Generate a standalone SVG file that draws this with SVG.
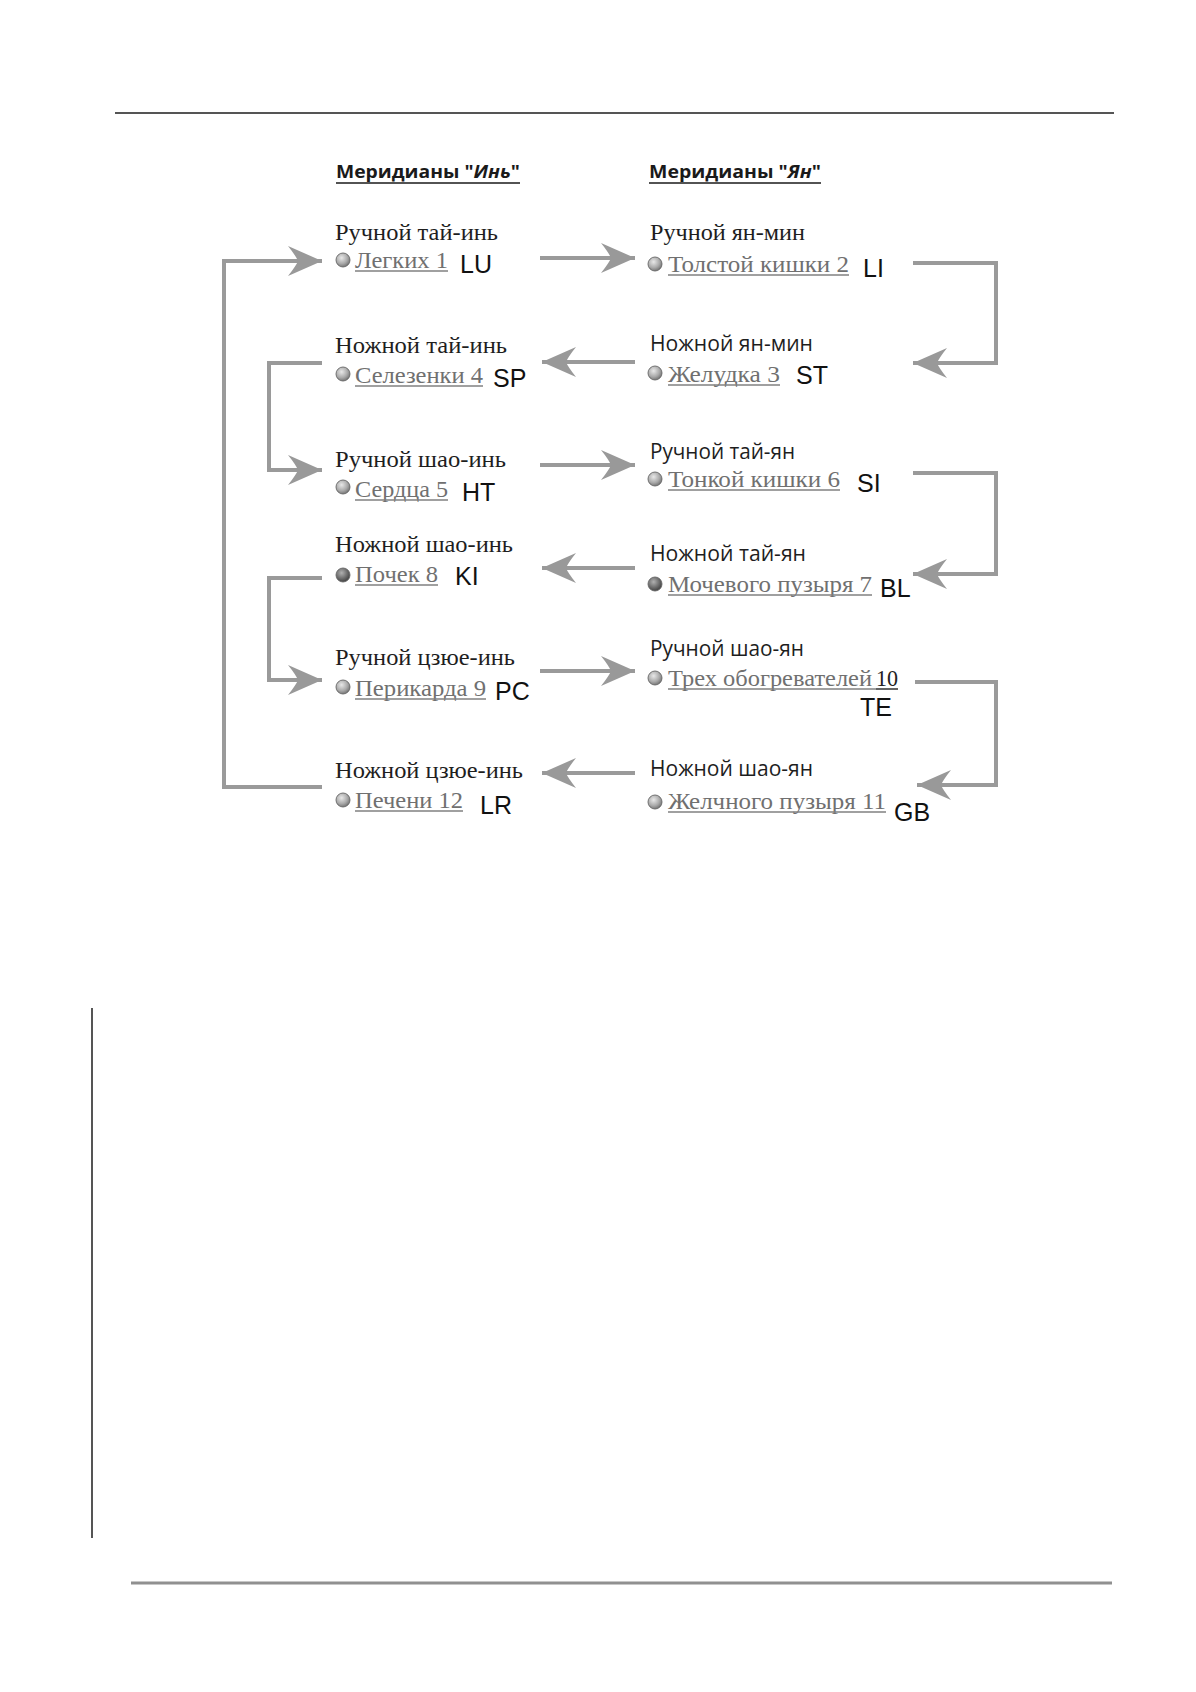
<svg xmlns="http://www.w3.org/2000/svg" width="1196" height="1692" viewBox="0 0 1196 1692">
<defs>
<radialGradient id="ball" cx="0.4" cy="0.35" r="0.7">
<stop offset="0" stop-color="#e8e8e8"/><stop offset="0.6" stop-color="#a9a9a9"/><stop offset="1" stop-color="#6c6c6c"/>
</radialGradient>
<radialGradient id="ballD" cx="0.4" cy="0.35" r="0.7">
<stop offset="0" stop-color="#b0b0b0"/><stop offset="0.6" stop-color="#6a6a6a"/><stop offset="1" stop-color="#3c3c3c"/>
</radialGradient>
<marker id="ah" markerUnits="userSpaceOnUse" markerWidth="40" markerHeight="34" refX="34" refY="15" orient="auto">
<path d="M34,15 L0,0 Q8,10 10,15 Q8,20 0,30 Z" fill="#999"/>
</marker>
<style>
.pg{stroke:#555;stroke-width:2;fill:none}
.cn{stroke:#9a9a9a;stroke-width:4;fill:none;marker-end:url(#ah)}
.hd{font-family:"Open Sans","Noto Sans",sans-serif;font-weight:bold;font-size:17px;fill:#1a1a1a}
.st{font-family:"Liberation Serif",serif;font-size:24px;fill:#1e1e1e}
.ss{font-family:"Open Sans","Noto Sans",sans-serif;font-size:21px;fill:#1e1e1e}
.lk{font-family:"Liberation Serif",serif;font-size:24px;fill:#707070}
.ul{stroke:#808080;stroke-width:1.4}
.ab{font-family:"Liberation Sans",Arial,sans-serif;font-size:25px;fill:#111}
.bl{stroke:#666;stroke-width:0.9}
</style>
</defs>
<rect width="1196" height="1692" fill="#fff"/>
<line class="pg" x1="115" y1="113" x2="1114" y2="113" stroke-width="2.5"/>
<line class="pg" x1="92" y1="1008" x2="92" y2="1538"/>
<line x1="131" y1="1583" x2="1112" y2="1583" stroke="#909090" stroke-width="3"/>

<g id="headings">
<text class="hd" x="336" y="178" textLength="184" lengthAdjust="spacingAndGlyphs">Меридианы "<tspan font-style="italic">Инь</tspan>"</text>
<line x1="336" y1="183" x2="520" y2="183" stroke="#1a1a1a" stroke-width="1.6"/>
<text class="hd" x="649" y="178" textLength="172" lengthAdjust="spacingAndGlyphs">Меридианы "<tspan font-style="italic">Ян</tspan>"</text>
<line x1="649" y1="183" x2="821" y2="183" stroke="#1a1a1a" stroke-width="1.6"/>
</g>

<g id="connectors">
<line class="cn" x1="540" y1="258" x2="635" y2="258"/>
<path class="cn" d="M913,263 H996 V363 H913"/>
<line class="cn" x1="635" y1="362" x2="542" y2="362"/>
<path class="cn" d="M322,363 H269 V470 H322"/>
<line class="cn" x1="540" y1="465" x2="635" y2="465"/>
<path class="cn" d="M913,473 H996 V574 H913"/>
<line class="cn" x1="635" y1="568" x2="542" y2="568"/>
<path class="cn" d="M322,578 H269 V680 H322"/>
<line class="cn" x1="540" y1="671" x2="635" y2="671"/>
<path class="cn" d="M915,682 H996 V785 H917"/>
<line class="cn" x1="635" y1="773" x2="542" y2="773"/>
<path class="cn" d="M322,787 H224 V261 H322"/>
</g>

<g id="LU">
<text class="st" x="335" y="240" textLength="163" lengthAdjust="spacingAndGlyphs">Ручной тай-инь</text>
<circle class="bl" cx="343" cy="260" r="7" fill="url(#ball)"/>
<text class="lk" x="355" y="268" textLength="93" lengthAdjust="spacingAndGlyphs">Легких 1</text>
<line class="ul" x1="355" y1="271" x2="448" y2="271"/>
<text class="ab" x="460" y="273">LU</text>
</g>
<g id="SP">
<text class="st" x="335" y="353" textLength="172" lengthAdjust="spacingAndGlyphs">Ножной тай-инь</text>
<circle class="bl" cx="343" cy="374" r="7" fill="url(#ball)"/>
<text class="lk" x="355" y="383" textLength="128" lengthAdjust="spacingAndGlyphs">Селезенки 4</text>
<line class="ul" x1="355" y1="386" x2="483" y2="386"/>
<text class="ab" x="493" y="387">SP</text>
</g>
<g id="HT">
<text class="st" x="335" y="467" textLength="171" lengthAdjust="spacingAndGlyphs">Ручной шао-инь</text>
<circle class="bl" cx="343" cy="487" r="7" fill="url(#ball)"/>
<text class="lk" x="355" y="497" textLength="93" lengthAdjust="spacingAndGlyphs">Сердца 5</text>
<line class="ul" x1="355" y1="500" x2="448" y2="500"/>
<text class="ab" x="462" y="501">HT</text>
</g>
<g id="KI">
<text class="st" x="335" y="552" textLength="178" lengthAdjust="spacingAndGlyphs">Ножной шао-инь</text>
<circle class="bl" cx="343" cy="575" r="7" fill="url(#ballD)"/>
<text class="lk" x="355" y="582" textLength="83" lengthAdjust="spacingAndGlyphs">Почек 8</text>
<line class="ul" x1="355" y1="585" x2="438" y2="585"/>
<text class="ab" x="455" y="585">KI</text>
</g>
<g id="PC">
<text class="st" x="335" y="665" textLength="180" lengthAdjust="spacingAndGlyphs">Ручной цзюе-инь</text>
<circle class="bl" cx="343" cy="687" r="7" fill="url(#ball)"/>
<text class="lk" x="355" y="696" textLength="131" lengthAdjust="spacingAndGlyphs">Перикарда 9</text>
<line class="ul" x1="355" y1="699" x2="486" y2="699"/>
<text class="ab" x="495" y="700">PC</text>
</g>
<g id="LR">
<text class="st" x="335" y="778" textLength="188" lengthAdjust="spacingAndGlyphs">Ножной цзюе-инь</text>
<circle class="bl" cx="343" cy="800" r="7" fill="url(#ball)"/>
<text class="lk" x="355" y="808" textLength="108" lengthAdjust="spacingAndGlyphs">Печени 12</text>
<line class="ul" x1="355" y1="811" x2="463" y2="811"/>
<text class="ab" x="480" y="814">LR</text>
</g>

<g id="LI">
<text class="st" x="650" y="240" textLength="155" lengthAdjust="spacingAndGlyphs">Ручной ян-мин</text>
<circle class="bl" cx="655" cy="264" r="7" fill="url(#ball)"/>
<text class="lk" x="668" y="272" textLength="181" lengthAdjust="spacingAndGlyphs">Толстой кишки 2</text>
<line class="ul" x1="668" y1="275" x2="849" y2="275"/>
<text class="ab" x="863" y="277">LI</text>
</g>
<g id="ST">
<text class="ss" x="650" y="351" textLength="163" lengthAdjust="spacingAndGlyphs">Ножной ян-мин</text>
<circle class="bl" cx="655" cy="373" r="7" fill="url(#ball)"/>
<text class="lk" x="668" y="382" textLength="112" lengthAdjust="spacingAndGlyphs">Желудка 3</text>
<line class="ul" x1="668" y1="385" x2="780" y2="385"/>
<text class="ab" x="796" y="384">ST</text>
</g>
<g id="SI">
<text class="ss" x="650" y="459" textLength="145" lengthAdjust="spacingAndGlyphs">Ручной тай-ян</text>
<circle class="bl" cx="655" cy="479" r="7" fill="url(#ball)"/>
<text class="lk" x="668" y="487" textLength="172" lengthAdjust="spacingAndGlyphs">Тонкой кишки 6</text>
<line class="ul" x1="668" y1="490" x2="840" y2="490"/>
<text class="ab" x="857" y="492">SI</text>
</g>
<g id="BL">
<text class="ss" x="650" y="561" textLength="156" lengthAdjust="spacingAndGlyphs">Ножной тай-ян</text>
<circle class="bl" cx="655" cy="584" r="7" fill="url(#ballD)"/>
<text class="lk" x="668" y="592" textLength="204" lengthAdjust="spacingAndGlyphs">Мочевого пузыря 7</text>
<line class="ul" x1="668" y1="595" x2="872" y2="595"/>
<text class="ab" x="880" y="597">BL</text>
</g>
<g id="TE">
<text class="ss" x="650" y="656" textLength="154" lengthAdjust="spacingAndGlyphs">Ручной шао-ян</text>
<circle class="bl" cx="655" cy="678" r="7" fill="url(#ball)"/>
<text class="lk" x="668" y="686" textLength="204" lengthAdjust="spacingAndGlyphs">Трех обогревателей</text>
<text class="lk" x="876" y="686" textLength="22" lengthAdjust="spacingAndGlyphs" style="fill:#222">10</text>
<line class="ul" x1="668" y1="689" x2="876" y2="689"/>
<line x1="876" y1="689" x2="898" y2="689" stroke="#222" stroke-width="1.4"/>
<text class="ab" x="860" y="716">TE</text>
</g>
<g id="GB">
<text class="ss" x="650" y="776" textLength="163" lengthAdjust="spacingAndGlyphs">Ножной шао-ян</text>
<circle class="bl" cx="655" cy="802" r="7" fill="url(#ball)"/>
<text class="lk" x="668" y="809" textLength="218" lengthAdjust="spacingAndGlyphs">Желчного пузыря 11</text>
<line class="ul" x1="668" y1="812" x2="886" y2="812"/>
<text class="ab" x="894" y="821">GB</text>
</g>
</svg>
